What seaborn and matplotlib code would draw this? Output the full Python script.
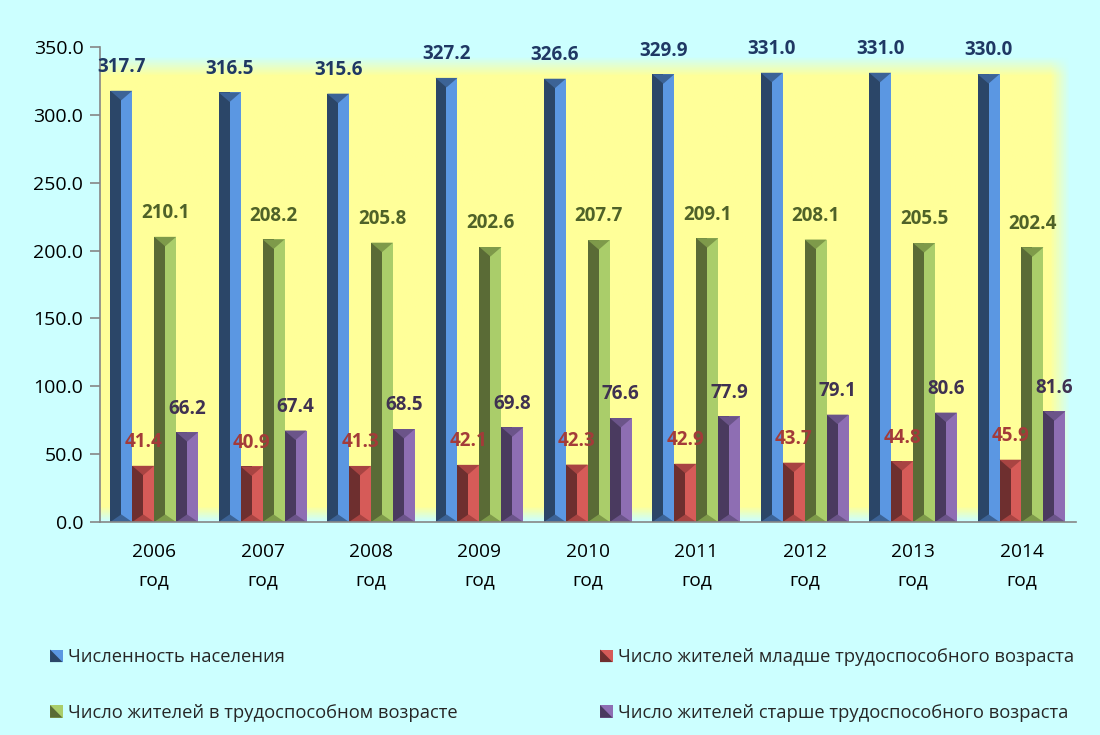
#!/usr/bin/env python3

import numpy as np
import pandas as pd
import matplotlib
matplotlib.use("Agg")
import matplotlib.pyplot as plt
from matplotlib.patches import Rectangle, Polygon, Patch
from matplotlib.legend_handler import HandlerBase
import seaborn as sns

# --- data -------------------------------------------------------------
years = ["2006", "2007", "2008", "2009", "2010", "2011", "2012", "2013", "2014"]
series = [
    "Численность населения",
    "Число жителей младше трудоспособного возраста",
    "Число жителей в трудоспособном возрасте",
    "Число жителей старше трудоспособного возраста",
]
population = [317.7, 316.5, 315.6, 327.2, 326.6, 329.9, 331.0, 331.0, 330.0]
young = [41.4, 40.9, 41.3, 42.1, 42.3, 42.9, 43.7, 44.8, 45.9]
working = [210.1, 208.2, 205.8, 202.6, 207.7, 209.1, 208.1, 205.5, 202.4]
old = [66.2, 67.4, 68.5, 69.8, 76.6, 77.9, 79.1, 80.6, 81.6]
yticks = [0, 50, 100, 150, 200, 250, 300, 350]

# colours: light face, dark face, cap, label
light = ["#5B97E2", "#D65B58", "#AACD6A", "#8E6EB3"]
dark = ["#2B4668", "#6E2F2F", "#5A6B36", "#4A3A5F"]
cap = ["#3C6396", "#A84442", "#7E9A4A", "#6B5489"]
label_col = ["#1F3864", "#A33B39", "#4F6228", "#3F3151"]

df = pd.DataFrame({
    "year": np.repeat(years, 4),
    "series": series * len(years),
    "value": [v for row in zip(population, young, working, old) for v in row],
})

sns.set_theme(style="white")
plt.rcParams["font.family"] = ["Open Sans", "DejaVu Sans"]

bg = "#CCFFFF"
fig = plt.figure(figsize=(11, 7.35), dpi=100, facecolor=bg)
ax = fig.add_axes([0.0909, 0.2898, 0.887, 0.6463])
ax.set_facecolor(bg)

# soft yellow plot area with faded edges
ny, nx = 200, 400
yy = np.linspace(0, 1, ny)[:, None]
xx = np.linspace(0, 1, nx)[None, :]
a_top = np.clip((0.98 - yy) / 0.04, 0, 1)
a_bot = np.clip((yy - 0.0) / 0.03, 0, 1)
a_right = np.clip((0.995 - xx) / 0.02, 0, 1)
alpha = a_top * a_bot * a_right
img = np.zeros((ny, nx, 4))
img[..., 0] = 1.0
img[..., 1] = 1.0
img[..., 2] = 0.6
img[..., 3] = alpha
ax.imshow(img, extent=(0, 1, 0, 1), origin="lower", transform=ax.transAxes,
          aspect="auto", zorder=0)

sns.barplot(data=df, x="year", y="value", hue="series", hue_order=series,
            palette=light, saturation=1, width=0.81, dodge=True, errorbar=None,
            ax=ax, zorder=2, legend=False)

# bevel look on each bar
d = 7.0
for p in list(ax.patches):
    h = p.get_height()
    if not isinstance(p, Rectangle) or h <= 0:
        continue
    fc = matplotlib.colors.to_hex(p.get_facecolor())
    k = [c.lower() for c in light].index(fc.lower())
    x0, w = p.get_x(), p.get_width()
    xc, x1 = x0 + w / 2, x0 + w
    p.set_edgecolor("none")
    ax.add_patch(Rectangle((x0, 0), w / 2, h, fc=dark[k], ec="none", zorder=3))
    ax.add_patch(Polygon([(x0, h), (x1, h), (xc, h - d)], closed=True,
                         fc=cap[k], ec="none", zorder=4))
    ax.add_patch(Polygon([(x0, 0), (x1, 0), (xc, d * 0.8)], closed=True,
                         fc=cap[k], ec="none", zorder=4))
    ax.annotate(f"{h:.1f}", (xc, h), xytext=(0, 17), textcoords="offset points",
                ha="center", va="center", fontsize=13.5, fontweight="bold",
                color=label_col[k], zorder=6)

ax.set_xlim(-0.5, len(years) - 0.5)
ax.set_ylim(0, 350)
ax.set_yticks(yticks)
ax.set_yticklabels([f"{v:.1f}" for v in yticks], fontsize=14, color="black")
ax.set_xticks(range(len(years)))
ax.set_xticklabels([f"{y}\nгод" for y in years], fontsize=13.8, color="black",
                   linespacing=1.75)
ax.set_xticks(np.arange(-0.5, len(years)), minor=True)
ax.tick_params(axis="x", which="major", length=0, pad=15)
ax.tick_params(axis="x", which="minor", length=11, width=1.2, color="#868686",
               direction="out")
ax.tick_params(axis="y", length=7, width=1.2, color="#868686", direction="out",
               pad=5, left=True)
ax.set_xlabel("")
ax.set_ylabel("")
for s in ["top", "right"]:
    ax.spines[s].set_visible(False)
for s in ["left", "bottom"]:
    ax.spines[s].set_color("#868686")
    ax.spines[s].set_linewidth(1.2)
    ax.spines[s].set_zorder(5)


class BevelHandler(HandlerBase):
    def __init__(self, lc, dc):
        super().__init__()
        self.lc, self.dc = lc, dc

    def create_artists(self, legend, orig_handle, xdescent, ydescent,
                       width, height, fontsize, trans):
        x0, y0 = -xdescent, -ydescent
        sq = Rectangle((x0, y0), width, height, fc=self.lc, ec="none",
                       transform=trans)
        tri = Polygon([(x0, y0), (x0, y0 + height), (x0 + width * 0.5, y0 + height / 2),
                       (x0 + width, y0)], closed=True, fc=self.dc, ec="none",
                      transform=trans)
        return [sq, tri]


def add_legend(idx, x):
    handles = [Patch(label=series[i]) for i in idx]
    hmap = {h: BevelHandler(light[i], dark[i]) for h, i in zip(handles, idx)}
    leg = fig.legend(handles=handles, loc="center left", bbox_to_anchor=(x, 0.068),
                     frameon=False, fontsize=13.2, handlelength=0.68,
                     handleheight=0.68, handletextpad=0.3, labelspacing=2.05,
                     borderpad=0, borderaxespad=0, handler_map=hmap)
    return leg


add_legend([0, 2], 0.0455)
add_legend([1, 3], 0.5455)

fig.savefig("out.png", dpi=100, facecolor=bg)
